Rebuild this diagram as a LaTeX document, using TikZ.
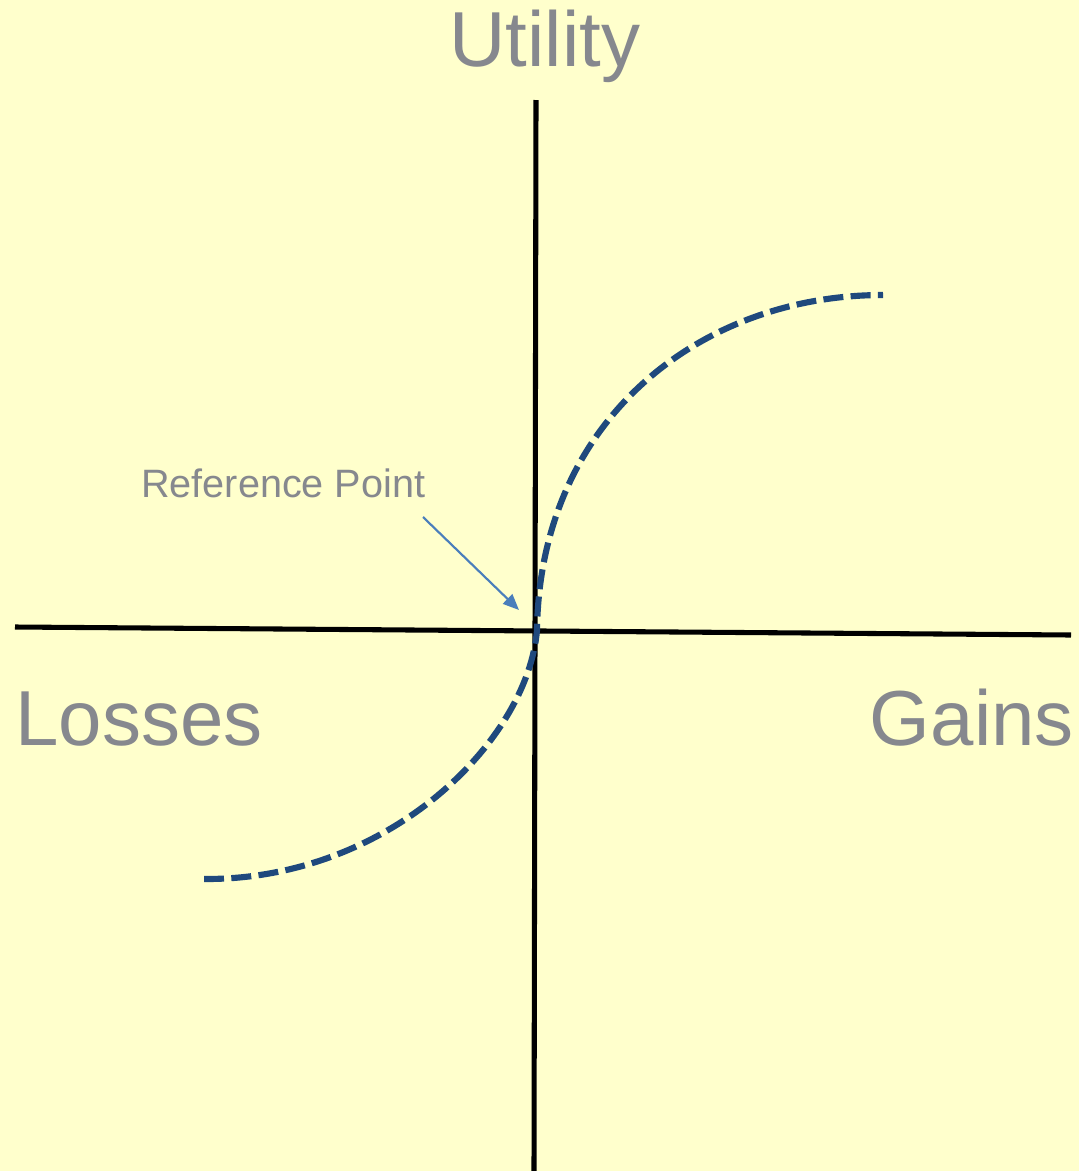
\documentclass[tikz,border=0pt]{standalone}
\usepackage{fontspec}
\setmainfont{Liberation Sans}
\usetikzlibrary{arrows.meta}
\definecolor{bgyellow}{RGB}{255,255,204}
\definecolor{labelgray}{RGB}{134,136,142}
\definecolor{curveblue}{RGB}{31,73,125}
\definecolor{arrowblue}{RGB}{74,126,187}
\tikzset{
  axisline/.style={line width=3.8pt, black},
  valuecurve/.style={line width=4.6pt, curveblue, dash pattern=on 15pt off 5.5pt},
  pointer/.style={line width=1.6pt, arrowblue, -{Triangle[length=12pt,width=10pt]}},
  biglabel/.style={inner sep=0pt, text=labelgray, font=\fontsize{58.5}{60}\selectfont},
  smalllabel/.style={inner sep=0pt, text=labelgray, font=\fontsize{29.7}{31}\selectfont}
}
\begin{document}
\begin{tikzpicture}[x=0.75pt,y=-0.75pt]
  \fill[bgyellow] (0,0) rectangle (1079,1171);
  \useasboundingbox (0,0) rectangle (1079,1171);
  % axes
  \coordinate (hleft) at (15,627);
  \coordinate (hright) at (1071,635);
  \coordinate (vtop) at (536,100);
  \coordinate (vbottom) at (534,1171);
  \draw[axisline] (hleft) -- (hright);
  \draw[axisline] (vtop) -- (vbottom);
  % value curve
  \coordinate (cstart) at (204,879);
  \coordinate (origin) at (537,630);
  \coordinate (cend) at (883,295);
  \draw[valuecurve] (cstart) .. controls (390,880) and (528,740) .. (origin)
     .. controls (540,420) and (700,295) .. (cend);
  % labels
  \node[biglabel, anchor=base] (utility) at (545,66) {Utility};
  \node[biglabel, anchor=base west] (losses) at (15,745) {Losses};
  \node[biglabel, anchor=base east] (gains) at (1074,745) {Gains};
  \node[smalllabel, anchor=base west] (refpt) at (141,497) {Reference Point};
  \coordinate (arrowstart) at (423,517);
  \coordinate (arrowend) at (519,610);
  \draw[pointer] (arrowstart) -- (arrowend);
\end{tikzpicture}
\end{document}
